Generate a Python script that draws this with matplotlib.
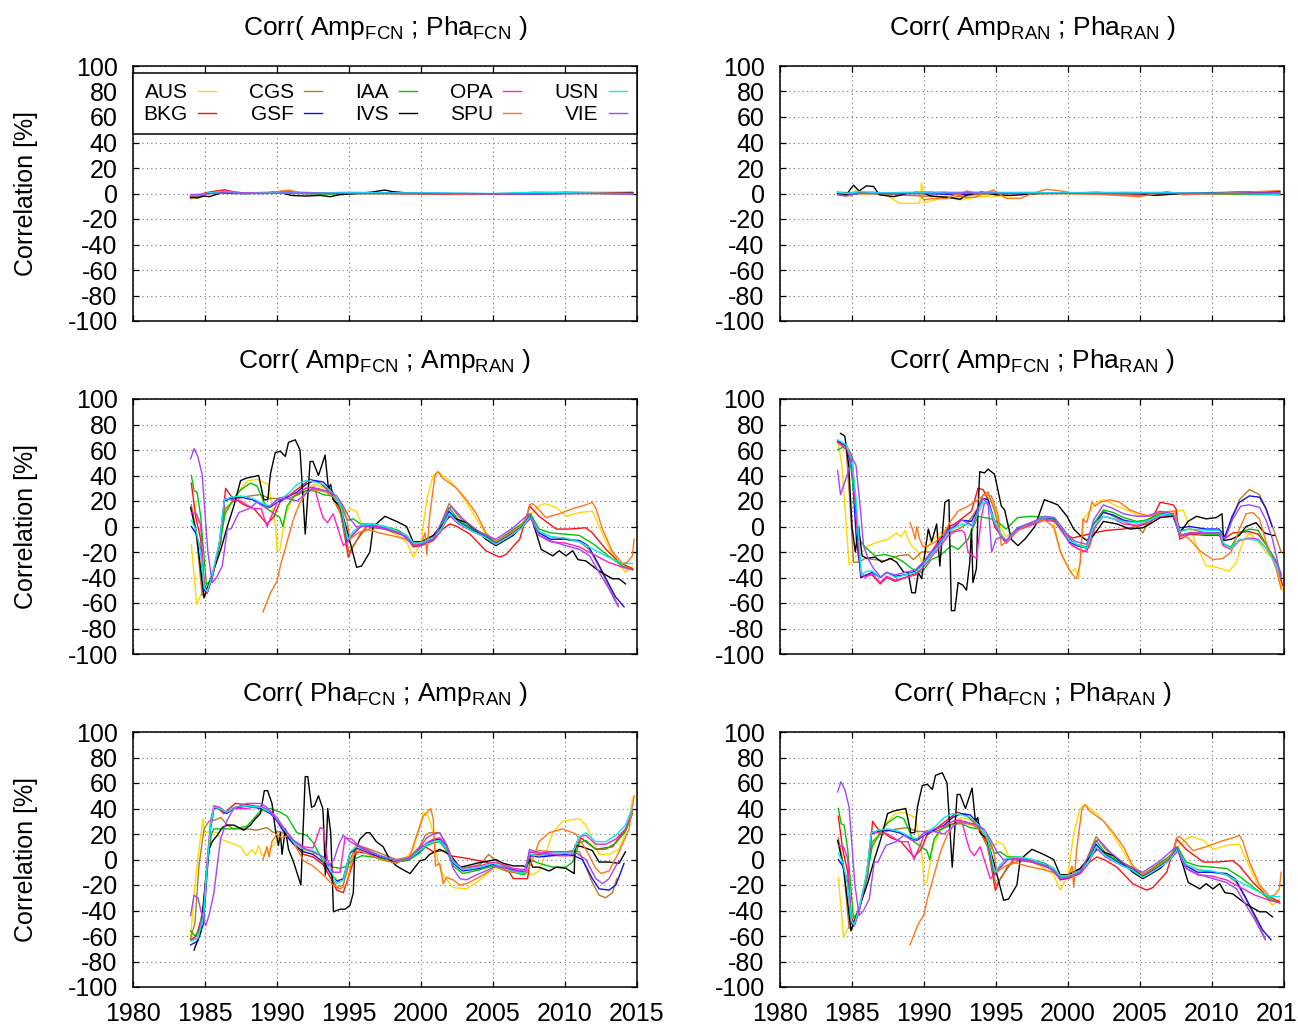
import matplotlib
matplotlib.use("Agg")
import matplotlib.pyplot as plt

plt.rcParams['font.family'] = ['Liberation Sans', 'DejaVu Sans']
plt.rcParams['mathtext.fontset'] = 'custom'
plt.rcParams['mathtext.rm'] = 'Liberation Sans'
plt.rcParams['mathtext.it'] = 'Liberation Sans'
plt.rcParams['axes.unicode_minus'] = False

stations = ['AUS', 'BKG', 'CGS', 'GSF', 'IAA', 'IVS', 'OPA', 'SPU', 'USN', 'VIE']
colors = ['#ffd800', '#ff1010', '#b57c22', '#1010f0', '#00c400',
          '#000000', '#ff20c8', '#ff7418', '#00f0f0', '#a444ff']
xticks = [1980, 1985, 1990, 1995, 2000, 2005, 2010, 2015]
yticks = [-100, -80, -60, -40, -20, 0, 20, 40, 60, 80, 100]

# ---- Corr( Amp_FCN ; Pha_FCN )  (year, correlation %)
af_AUS = [(1984.0, -4.5), (1984.5, -3), (1985.0, 0), (1985.6, 1.5), (1986.3, 3), (1986.9, 1.5), (1988.0, 0),
          (1989.5, 0.5), (1990.3, 1.5), (1990.8, 2.5), (1991.5, 1), (1993.0, 0), (1995.5, 0), (1997.5, 0.5),
          (1999.5, -0.5), (2002.0, -1), (2005.0, -0.5), (2008.0, 0.5), (2011.0, 0), (2014.7, -0.5)]
af_BKG = [(1984.0, -3.5), (1984.5, -2), (1985.0, 0.5), (1985.8, 2), (1986.4, 2.8), (1987.0, 1), (1988.5, 0),
          (1990.0, 1), (1990.7, 2), (1991.5, 0.5), (1993.0, 0), (1996.0, 0.5), (1999.0, 0), (2003.0, -0.5),
          (2007.0, 0), (2010.0, 1), (2014.7, 0.5)]
af_CGS = [(1984.0, -3), (1984.6, -2), (1985.2, 0), (1986.0, 1.5), (1987.0, 0.5), (1989.0, 0), (1990.5, 1.5),
          (1991.5, 0.5), (1994.0, 0), (1998.0, 0), (2002.0, -0.5), (2006.0, 0), (2010.0, 0.5), (2014.7, 0)]
af_GSF = [(1984.0, -2), (1984.6, -1.5), (1985.2, 0), (1986.0, 1), (1987.5, 0), (1990.0, 0.5), (1992.0, 0),
          (1995.0, 0), (1998.0, 0.5), (2001.0, 0), (2005.0, -0.5), (2009.0, 0), (2012.0, 0.5), (2014.7, -0.5)]
af_IAA = [(1984.0, -2.5), (1984.7, -1), (1985.5, 0.5), (1986.5, 1), (1988.0, 0), (1990.5, 0.5), (1993.0, -0.5),
          (1996.0, 0), (2000.0, 0), (2004.0, -0.5), (2008.0, 0), (2011.0, 0.5), (2014.7, 1)]
af_IVS = [(1984.0, -3), (1984.5, -3.5), (1984.9, -2), (1985.3, -2.5), (1985.7, -1), (1986.2, 0.5), (1987.0, 0),
          (1988.0, 0), (1989.0, 0.5), (1990.0, 1), (1990.5, 0), (1991.0, -1.5), (1992.0, -2), (1993.0, -1.5),
          (1993.7, -2.5), (1994.3, -1), (1995.5, 0), (1996.5, 1), (1997.5, 2.7), (1998.0, 1.5), (1999.0, 0.5),
          (2000.0, 0), (2005.0, -0.5), (2010.0, 0), (2014.7, 0.5)]
af_OPA = [(1984.0, -2), (1984.8, -1), (1985.5, 0.5), (1986.5, 2), (1987.5, 0.5), (1990.0, 1), (1992.0, 0),
          (1995.0, 0.5), (1999.0, 0), (2003.0, -0.5), (2008.0, 0), (2012.0, 0.5), (2014.7, 0)]
af_SPU = [(1989.0, 0), (1989.8, 1), (1990.3, 2), (1990.8, 2.5), (1991.5, 1), (1993.0, 0.5), (1996.0, 0),
          (1999.0, 0), (2003.0, -0.5), (2006.0, 0), (2008.0, 1), (2011.0, 0.5), (2014.7, 0)]
af_USN = [(1984.0, -1.5), (1984.6, -1), (1985.3, 0.5), (1986.2, 1.5), (1987.5, 0), (1990.0, 0.5), (1993.0, 0.5),
          (1995.0, 1), (1998.0, 0.5), (2001.0, 0.5), (2005.0, 0), (2008.0, 1), (2011.0, 0.5), (2014.7, -0.5)]
af_VIE = [(1984.0, -1), (1984.8, -0.5), (1985.5, 0), (1986.5, 0.5), (1989.0, 0), (1992.0, 0.5), (1995.0, 0),
          (1999.0, 0), (2003.0, 0), (2007.0, -0.5), (2011.0, 0), (2014.7, -0.5)]

# ---- Corr( Amp_RAN ; Pha_RAN )
rr_AUS = [(1984.0, -1), (1985.0, -2), (1985.3, 3), (1985.6, -1), (1986.5, 0), (1987.5, -2), (1988.3, -7.7),
          (1989.0, -7.7), (1989.7, -7.5), (1989.84, 8.5), (1990.0, -7), (1990.8, -5), (1991.5, -2), (1992.5, -5),
          (1993.5, -3), (1994.5, -2), (1995.5, -2), (1997.0, -1), (1999.0, 0), (2003.0, -1), (2006.0, 1),
          (2009.0, 0), (2012.0, -1), (2014.7, 0)]
rr_BKG = [(1984.0, 0), (1984.5, -1.5), (1985.2, 1), (1986.0, 0), (1987.5, 0), (1989.0, 0.5), (1990.5, 1),
          (1992.0, -1), (1993.0, 1.5), (1994.0, 0), (1996.0, 0.5), (1999.0, 0), (2002.0, 1), (2005.0, -1),
          (2008.0, 0), (2011.0, 0.5), (2014.7, 0)]
rr_CGS = [(1984.0, 1), (1984.5, -2), (1985.0, -1), (1985.5, 1), (1986.5, 0), (1988.0, -1), (1990.0, -2),
          (1992.0, -3), (1993.5, -1), (1995.0, 0), (1998.0, 0.5), (2002.0, 0), (2005.0, -1.5), (2008.0, 0),
          (2014.7, 0.5)]
rr_GSF = [(1984.0, 0), (1985.0, -0.5), (1986.0, 0.5), (1988.0, 0), (1990.0, 0), (1992.5, -1), (1994.0, 0.5),
          (1997.0, 0), (2001.0, 0.5), (2005.0, 0), (2009.0, 0.5), (2012.0, 1), (2014.7, 1.5)]
rr_IAA = [(1984.0, 1), (1985.0, 0.5), (1986.5, 1), (1988.0, 0), (1990.0, 1), (1992.0, 0), (1994.0, 1),
          (1997.0, 0.5), (2000.0, 0), (2004.0, 0.5), (2008.0, 0), (2012.0, -0.5), (2014.7, -1)]
rr_IVS = [(1984.0, 0), (1984.6, -1), (1985.1, 6.5), (1985.5, 2), (1986.0, 6), (1986.5, 5.5), (1986.9, -1),
          (1987.9, -2.5), (1988.8, 0), (1989.5, 1), (1990.0, 0), (1990.5, -2), (1991.6, -3), (1992.5, -4.5),
          (1993.0, -1), (1994.0, 1), (1995.0, -1), (1996.0, -1.5), (1998.0, 0), (2000.0, 0.5), (2005.0, 0),
          (2006.0, -1.5), (2008.0, 0), (2014.7, 1.5)]
rr_OPA = [(1984.0, 0.5), (1985.0, 0), (1986.5, 0.5), (1988.0, 0), (1990.0, 0.5), (1991.5, 1), (1992.5, -1),
          (1993.0, 2), (1993.5, 0), (1994.5, 1), (1996.0, 0), (1999.0, 0.5), (2003.0, 0), (2006.0, 0.5),
          (2010.0, 0), (2014.7, 0)]
rr_SPU = [(1989.03, 0), (1989.5, 1), (1990.0, -5), (1990.5, -4), (1991.0, -4), (1991.6, -4), (1992.3, 0),
          (1992.8, -3), (1993.5, -3), (1994.8, 2.7), (1995.7, -3.8), (1996.7, -3.8), (1997.5, 0), (1998.5, 3.3),
          (1999.5, 2), (2000.5, 0), (2002.0, -0.5), (2005.0, -2.5), (2006.85, 1.5), (2008.0, -1), (2010.0, 0),
          (2012.0, 1), (2014.7, 2.2)]
rr_USN = [(1984.0, 1), (1984.6, 0), (1985.5, 1.5), (1987.0, 0.5), (1989.0, 1), (1991.0, 1), (1993.0, 1),
          (1994.5, 0.5), (1997.0, 1), (2000.0, 0.5), (2004.0, 1), (2008.0, 0.5), (2012.0, 0), (2014.7, -0.5)]
rr_VIE = [(1984.0, -1), (1984.6, -2), (1985.3, 0), (1987.0, 0), (1990.0, 0), (1993.0, 0.5), (1996.0, 0),
          (2000.0, 0), (2005.0, 0), (2010.0, 0), (2014.7, 0.5)]

# ---- Corr( Amp_FCN ; Amp_RAN )  (the Pha_FCN ; Pha_RAN panel shows the same curves)
aa_AUS = [(1984.05, -14), (1984.42, -61), (1984.7, -54), (1985.1, -50), (1985.5, -38), (1986.0, -12), (1986.4, 12),
          (1987.0, 22), (1987.5, 30), (1988.0, 36), (1988.6, 37), (1989.4, 33), (1989.9, 0), (1990.0, -19),
          (1990.2, -18), (1990.6, 10), (1991.2, 24), (1992.0, 30), (1992.6, 33), (1993.2, 31), (1993.8, 26),
          (1994.4, 18), (1994.8, 10), (1995.1, 14), (1995.5, 12), (1995.9, 2), (1996.6, 1), (1997.5, -2),
          (1998.4, -7), (1999.0, -12), (1999.47, -24), (2000.0, -12), (2000.4, 21), (2000.85, 40), (2001.2, 43),
          (2001.5, 40), (2002.0, 36), (2002.47, 30), (2003.15, 19), (2003.85, 6), (2004.5, -6), (2005.2, -11),
          (2006.15, -7), (2007.07, 0), (2007.65, 10), (2008.2, 16), (2008.57, 18), (2009.4, 15), (2010.07, 8),
          (2011.0, 11), (2011.9, 12), (2012.37, 0), (2013.1, -18), (2013.8, -30), (2014.2, -36), (2014.68, -31)]
aa_BKG = [(1984.05, 34), (1984.35, 8), (1984.7, -10), (1984.95, -45), (1985.15, -50), (1985.5, -38), (1986.1, -12),
          (1986.43, 30), (1986.8, 24), (1987.7, 17), (1988.4, 14), (1989.3, 2), (1989.8, 8), (1990.2, 19),
          (1990.8, 24), (1991.5, 30), (1992.3, 37), (1992.9, 35), (1993.5, 29), (1994.4, 13), (1994.95, -24),
          (1995.3, -15), (1996.2, 0), (1997.2, -1), (1998.3, -5), (1999.0, -8), (1999.45, -16), (2000.0, -15),
          (2000.85, -11), (2001.5, -2), (2002.0, 2), (2002.5, 0), (2003.4, -6), (2004.5, -19), (2005.45, -24),
          (2005.9, -22), (2006.85, -10), (2007.55, 16), (2008.2, 8), (2009.4, -2), (2010.3, -2), (2011.45, -1),
          (2011.9, -5), (2012.85, -18), (2013.75, -28), (2014.68, -33)]
aa_CGS = [(1984.05, 17), (1984.35, -1), (1984.8, -54), (1985.15, -52), (1985.5, -40), (1986.0, -14), (1986.4, 14),
          (1987.0, 20), (1987.6, 23), (1988.15, 24), (1988.85, 25), (1989.5, 22), (1990.2, 22), (1990.8, 22),
          (1991.5, 25), (1992.2, 29), (1992.8, 30), (1993.3, 28), (1993.8, 24), (1994.4, 10), (1995.0, -20),
          (1995.4, -14), (1995.8, -5), (1996.6, -1), (1997.5, -2), (1998.4, -5), (1999.0, -8), (1999.5, -14),
          (2000.0, -13), (2000.8, -8), (2001.3, 0), (2001.95, 18), (2002.6, 8), (2003.6, -1), (2004.4, -6),
          (2005.2, -12), (2006.1, -5), (2007.0, 2), (2007.6, 10), (2008.2, -4), (2009.0, -8), (2010.0, -10),
          (2011.0, -12), (2011.7, -18), (2012.3, -30), (2013.0, -46), (2013.7, -62)]
aa_GSF = [(1984.05, 0), (1984.35, -5), (1984.7, -18), (1984.95, -50), (1985.15, -52), (1985.5, -40), (1986.0, -14),
          (1986.35, 20), (1986.8, 22), (1987.5, 23), (1988.3, 21), (1989.0, 17), (1989.5, 15), (1990.0, 19),
          (1990.7, 23), (1991.4, 27), (1992.0, 33), (1992.6, 36), (1993.2, 35), (1993.8, 28), (1994.4, 16),
          (1994.9, -12), (1995.3, -6), (1995.8, 0), (1996.6, 1), (1997.5, -1), (1998.4, -5), (1999.0, -8),
          (1999.5, -15), (2000.0, -14), (2000.8, -10), (2001.3, -4), (2001.95, 12), (2002.6, 4), (2003.6, -3),
          (2004.4, -7), (2005.2, -13), (2006.1, -7), (2007.0, 0), (2007.6, 9), (2008.2, -5), (2009.0, -10),
          (2010.0, -10), (2011.0, -11), (2011.6, -15), (2012.2, -27), (2012.9, -42), (2013.5, -55), (2014.1, -63)]
aa_IAA = [(1984.05, 40), (1984.25, 28), (1984.45, 27), (1984.7, 8), (1985.1, -46), (1985.5, -40), (1986.0, -15),
          (1986.4, 10), (1987.0, 22), (1987.5, 29), (1988.15, 34), (1988.6, 32), (1989.3, 14), (1989.8, 10),
          (1990.2, 7), (1990.4, 0), (1990.7, 16), (1991.2, 24), (1992.0, 28), (1992.6, 28), (1993.2, 25),
          (1993.8, 24), (1994.4, 18), (1994.9, 5), (1995.3, 6), (1995.8, 2), (1996.6, 2), (1997.5, 0),
          (1998.4, -3), (1999.0, -7), (1999.5, -14), (2000.0, -13), (2000.8, -9), (2001.3, -3), (2001.95, 15),
          (2002.6, 5), (2003.6, -2), (2004.4, -6), (2005.2, -12), (2006.1, -5), (2007.0, 2), (2007.6, 10),
          (2008.2, -2), (2009.0, -5), (2010.0, -6), (2011.0, -7), (2012.0, -14), (2013.0, -23), (2014.0, -31),
          (2014.7, -34)]
aa_IVS = [(1984.0, 15), (1984.4, -5), (1984.93, -56), (1985.4, -41), (1986.1, -18), (1986.55, 0), (1987.0, 16),
          (1987.47, 36), (1987.9, 38), (1988.73, 40), (1989.08, 21), (1989.36, 21), (1989.54, 41), (1989.88, 58),
          (1990.23, 59), (1990.58, 55), (1990.8, 66), (1991.27, 68), (1991.6, 60), (1991.96, -6), (1992.3, 51),
          (1992.5, 51), (1992.88, 40), (1993.34, 56), (1993.57, 30), (1993.73, 33), (1993.9, 21), (1994.38, 16),
          (1994.84, -2), (1995.07, -12), (1995.53, -32), (1995.87, -31), (1996.45, -20), (1996.68, 0),
          (1997.5, 8), (1998.3, 4), (1999.0, 0), (1999.45, -12), (2000.0, -12), (2000.85, -7), (2002.0, 8),
          (2003.15, 3), (2003.85, -3), (2004.5, -10), (2005.2, -15), (2006.4, -7), (2007.3, 3), (2007.65, 7),
          (2008.0, -5), (2008.35, -18), (2009.15, -23), (2009.6, -19), (2010.07, -23), (2010.53, -19),
          (2010.9, -26), (2011.45, -27), (2012.37, -35), (2013.3, -41), (2013.75, -41), (2014.2, -45)]
aa_OPA = [(1984.05, 11), (1984.4, 10), (1984.7, 1), (1984.95, -48), (1985.15, -52), (1985.5, -40), (1986.0, -13),
          (1986.35, 22), (1986.8, 21), (1987.5, 20), (1988.3, 14), (1988.9, 14), (1989.3, 0), (1989.8, 13),
          (1990.1, 22), (1990.7, 24), (1991.4, 26), (1992.0, 30), (1992.6, 31), (1993.0, 14), (1993.2, 7),
          (1993.5, 3), (1993.9, 10), (1994.6, -15), (1994.9, -12), (1995.3, -6), (1995.8, 0), (1996.6, 1),
          (1997.5, -1), (1998.4, -5), (1999.0, -8), (1999.5, -15), (2000.0, -14), (2000.8, -10), (2001.3, -5),
          (2001.95, 9), (2002.6, 2), (2003.6, -4), (2004.4, -8), (2005.2, -14), (2006.1, -8), (2007.0, -1),
          (2007.6, 7), (2008.2, -7), (2009.0, -12), (2010.0, -13), (2011.0, -16), (2012.0, -22), (2013.0, -28),
          (2014.0, -32), (2014.7, -34)]
aa_SPU = [(1989.03, -67), (1989.54, -52), (1990.0, -43), (1990.23, -31), (1990.7, -12), (1991.15, 6), (1991.6, 19),
          (1992.07, 27), (1992.5, 29), (1993.45, 27), (1994.15, 21), (1994.84, 6), (1995.07, -10), (1995.5, -6),
          (1996.2, -2), (1997.1, -5), (1998.3, -8), (1999.0, -10), (1999.47, -15), (2000.05, -12), (2000.28, -5),
          (2000.4, -22), (2000.6, 8), (2000.97, 40), (2001.2, 43), (2001.5, 38), (2002.0, 34), (2002.47, 30),
          (2003.15, 21), (2003.85, 10), (2004.5, -5), (2005.2, -12), (2006.1, -6), (2006.9, 0), (2007.3, 6),
          (2007.53, 17), (2007.76, 18), (2008.2, 13), (2008.67, 7), (2009.6, 10), (2010.53, 14), (2011.45, 17),
          (2011.9, 19), (2012.15, 14), (2012.6, -2), (2013.3, -20), (2014.0, -29), (2014.33, -28),
          (2014.68, -23), (2014.8, -10)]
aa_USN = [(1984.05, 5), (1984.35, -2), (1984.7, -20), (1984.95, -48), (1985.15, -51), (1985.5, -38), (1986.0, -12),
          (1986.35, 21), (1986.8, 23), (1987.5, 24), (1988.3, 22), (1989.0, 18), (1989.5, 16), (1990.0, 20),
          (1990.7, 25), (1991.4, 33), (1992.0, 36), (1992.6, 35), (1993.2, 33), (1993.8, 27), (1994.4, 17),
          (1994.9, -10), (1995.3, -4), (1995.8, 1), (1996.6, 2), (1997.5, 0), (1998.4, -4), (1999.0, -7),
          (1999.5, -13), (2000.0, -13), (2000.8, -9), (2001.3, -4), (2001.95, 10), (2002.6, 3), (2003.6, -4),
          (2004.4, -8), (2005.2, -14), (2006.1, -8), (2007.0, -1), (2007.6, 8), (2008.2, -4), (2009.0, -8),
          (2010.0, -9), (2011.0, -12), (2012.0, -18), (2013.0, -24), (2014.0, -29), (2014.7, -29)]
aa_VIE = [(1984.0, 53), (1984.24, 61), (1984.5, 55), (1984.8, 41), (1985.2, -20), (1985.5, -44), (1985.8, -40),
          (1986.2, -31), (1986.55, -2), (1986.8, -2), (1987.35, 11), (1988.05, 14), (1988.6, 19), (1989.3, 14),
          (1990.0, 21), (1990.7, 22), (1991.4, 20), (1992.0, 26), (1992.5, 30), (1993.45, 28), (1994.15, 24),
          (1994.6, 16), (1995.07, 6), (1995.5, 0), (1996.6, 0), (1997.5, -2), (1998.55, -5), (1999.47, -15),
          (2000.0, -14), (2000.85, -10), (2001.77, 11), (2002.1, 16), (2002.9, 6), (2004.1, -5), (2005.2, -10),
          (2006.4, -1), (2007.3, 8), (2007.5, 10), (2008.2, -7), (2009.15, -12), (2010.07, -15), (2011.0, -18),
          (2011.7, -23), (2012.37, -36), (2013.06, -49), (2013.7, -63)]

# ---- Corr( Amp_FCN ; Pha_RAN )
ap_AUS = [(1984.0, 68), (1984.3, 48), (1984.8, -30), (1985.2, -24), (1985.7, -20), (1986.15, -15), (1986.84, -12),
          (1987.5, -10), (1988.1, -5), (1988.4, -8), (1988.7, -3), (1988.9, -10), (1989.15, -15), (1989.6, -20),
          (1989.84, -28), (1990.3, -15), (1990.8, -8), (1991.5, -2), (1992.2, 0), (1992.8, 2), (1993.4, 8),
          (1994.0, 20), (1994.5, 23), (1994.9, 15), (1995.3, 0), (1995.7, -8), (1996.5, -2), (1997.44, 3),
          (1998.36, 6), (1999.0, 4), (1999.47, -20), (2000.16, -36), (2000.5, -33), (2000.74, -40), (2001.08, 6),
          (2001.5, 12), (2002.0, 19), (2002.46, 21), (2003.4, 16), (2004.3, 12), (2005.0, 8), (2006.0, 9),
          (2007.0, 11), (2008.0, 13), (2008.45, 0), (2008.92, -15), (2009.6, -31), (2010.3, -32), (2011.2, -35),
          (2011.7, -28), (2012.14, -12), (2012.6, -5), (2013.2, -12), (2013.75, -20), (2014.45, -28),
          (2014.9, -50)]
ap_BKG = [(1984.0, 66), (1984.6, 64), (1985.0, 55), (1985.3, 10), (1985.6, -40), (1986.0, -38), (1986.4, -38),
          (1986.96, -45), (1987.4, -40), (1988.0, -43), (1988.7, -40), (1989.4, -37), (1989.95, -28),
          (1990.5, -20), (1991.1, -10), (1991.7, 0), (1992.14, 2), (1992.6, 6), (1993.3, 12), (1993.75, 30),
          (1994.1, 29), (1994.45, 21), (1994.9, 0), (1995.37, -8), (1995.7, -13), (1996.5, -3), (1997.44, 2),
          (1998.36, 6), (1999.05, 5), (1999.75, -5), (2000.3, -9), (2001.08, -7), (2001.77, -5), (2002.7, -3),
          (2003.85, -2), (2004.77, 0), (2005.7, 3), (2006.4, 19), (2007.3, 17), (2007.5, 14), (2007.76, -10),
          (2008.45, -6), (2009.6, -7), (2010.5, -7), (2010.8, -10), (2011.45, -5), (2012.6, -4), (2013.2, -6),
          (2013.75, -14), (2014.45, -28), (2014.9, -46)]
ap_CGS = [(1984.0, 66), (1984.6, 60), (1984.85, 20), (1985.1, -28), (1985.5, -28), (1985.9, -25), (1986.6, -26),
          (1987.3, -27), (1988.2, -23), (1988.9, -22), (1989.26, -26), (1989.84, -20), (1990.5, -20),
          (1991.1, -14), (1991.7, -5), (1992.4, -2), (1993.0, 2), (1993.7, 14), (1994.1, 25), (1994.45, 27),
          (1994.9, 12), (1995.37, -8), (1995.7, -12), (1996.5, -2), (1997.44, 2), (1998.36, 6), (1999.05, 5),
          (1999.75, -7), (2000.3, -15), (2001.08, -20), (2001.5, -16), (2001.9, 0), (2002.46, 12), (2003.15, 8),
          (2003.85, 4), (2004.77, 0), (2005.2, -5), (2005.5, 2), (2006.15, 7), (2007.3, 9), (2007.76, -3),
          (2008.45, -2), (2009.6, -5), (2010.5, -5), (2010.8, -10), (2011.2, 0), (2011.9, 21), (2012.6, 29),
          (2013.3, 25), (2013.75, 14), (2014.2, 0), (2014.8, -20)]
ap_GSF = [(1984.0, 67), (1984.6, 63), (1985.0, 45), (1985.3, -10), (1985.65, -40), (1986.0, -38), (1986.4, -36),
          (1986.96, -40), (1987.4, -36), (1988.0, -39), (1988.7, -38), (1989.4, -35), (1989.95, -29),
          (1990.5, -22), (1991.1, -13), (1991.7, -2), (1992.14, 0), (1992.6, 5), (1993.3, 4), (1993.75, 14),
          (1994.1, 22), (1994.45, 21), (1994.9, 4), (1995.37, -8), (1995.7, -12), (1996.5, -2), (1997.44, 3),
          (1998.36, 7), (1999.05, 6), (1999.75, -5), (2000.1, -12), (2000.6, -15), (2001.3, -17), (2001.77, 2),
          (2002.46, 11), (2003.15, 9), (2003.85, 5), (2004.77, 3), (2005.46, 5), (2006.4, 10), (2007.3, 9),
          (2007.76, -1), (2008.45, 0), (2009.6, -2), (2010.5, -2), (2010.9, -8), (2011.4, 8), (2011.9, 19),
          (2012.6, 24), (2013.3, 23), (2013.75, 14), (2014.17, 0)]
ap_IAA = [(1984.0, 60), (1984.5, 63), (1984.8, 58), (1985.2, 20), (1985.5, -10), (1985.9, -16), (1986.6, -23),
          (1987.3, -22), (1988.0, -24), (1988.6, -28), (1989.15, -33), (1989.84, -36), (1990.5, -26),
          (1991.1, -23), (1991.9, -15), (1992.37, -18), (1993.06, -10), (1993.75, 8), (1994.2, 7), (1994.67, 6),
          (1995.3, 2), (1995.7, -2), (1996.5, 7), (1997.44, 8), (1998.8, 7), (1999.5, 0), (2000.1, -10),
          (2000.6, -14), (2001.3, -16), (2001.77, 2), (2002.46, 13), (2003.15, 11), (2003.85, 7), (2004.77, 4),
          (2005.46, 5), (2006.4, 10), (2007.3, 8), (2007.76, -7), (2008.45, -5), (2009.6, -6), (2010.5, -6),
          (2010.8, -14), (2011.33, -16), (2011.9, -5), (2012.6, -2), (2013.2, -3), (2013.75, -14),
          (2014.45, -27), (2014.8, -37)]
ap_IVS = [(1984.2, 73), (1984.5, 71), (1984.77, 48), (1985.0, 0), (1985.23, -20), (1985.46, 0), (1985.7, -23),
          (1986.04, -25), (1986.6, -24), (1987.07, -28), (1987.65, -25), (1988.1, -28), (1988.6, -36),
          (1988.9, -36), (1989.15, -52), (1989.4, -52), (1989.6, -36), (1989.84, -41), (1990.07, -20),
          (1990.3, -2), (1990.53, -12), (1990.88, 2), (1991.1, -31), (1991.45, 19), (1991.73, 21), (1991.9, -66),
          (1992.14, -66), (1992.37, -44), (1992.7, -46), (1992.95, -50), (1993.18, -28), (1993.3, -2),
          (1993.4, -44), (1993.64, -33), (1993.75, 13), (1993.87, 43), (1994.2, 42), (1994.45, 45), (1994.9, 41),
          (1995.37, 16), (1995.6, 13), (1996.06, -10), (1996.52, -15), (1997.0, -10), (1997.7, 0), (1998.36, 21),
          (1998.82, 19), (1999.29, 17), (1999.93, 8), (2000.4, -2), (2000.85, -7), (2001.3, -11), (2001.77, -7),
          (2002.46, 4), (2003.4, 2), (2004.3, -2), (2005.2, -1), (2005.7, 2), (2006.4, 7), (2007.3, 8),
          (2007.76, -5), (2008.34, 4), (2008.92, 8), (2009.6, 6), (2010.3, 7), (2010.7, 10), (2010.8, -11),
          (2011.33, -10), (2011.9, -7), (2012.37, 0), (2013.06, 3), (2013.64, -5), (2014.2, -7), (2014.33, -7)]
ap_OPA = [(1984.0, 66), (1984.6, 62), (1985.0, 50), (1985.3, 10), (1985.6, -35), (1985.9, -40), (1986.4, -37),
          (1986.96, -44), (1987.4, -39), (1988.0, -42), (1988.7, -40), (1989.4, -38), (1989.95, -32),
          (1990.5, -24), (1991.1, -16), (1991.7, -7), (1992.14, -4), (1992.6, -3), (1992.83, -5), (1993.06, -20),
          (1993.64, -25), (1994.0, 8), (1994.2, 19), (1994.5, 17), (1994.9, 2), (1995.37, -8), (1995.7, -13),
          (1996.5, -3), (1997.44, 1), (1998.36, 5), (1999.05, 4), (1999.75, -6), (2000.1, -13), (2000.6, -17),
          (2001.3, -20), (2001.77, -2), (2002.46, 8), (2003.15, 6), (2003.85, 2), (2004.77, 1), (2005.46, 3),
          (2006.4, 8), (2007.3, 9), (2007.76, -7), (2008.45, -5), (2009.6, -5), (2010.5, -5), (2010.76, -15),
          (2011.33, -18), (2011.9, -11), (2012.6, -9), (2013.2, -10), (2013.75, -17), (2014.45, -28),
          (2014.8, -38)]
ap_SPU = [(1989.03, 3), (1989.2, -2), (1989.38, -10), (1989.5, 0), (1989.7, -10), (1989.95, -16), (1990.3, -15),
          (1990.8, -12), (1991.4, -5), (1991.9, 5), (1992.37, 12), (1993.06, 16), (1993.75, 21), (1994.2, 25),
          (1994.67, 24), (1995.13, 10), (1995.37, -15), (1995.7, -12), (1996.5, -3), (1997.44, 3), (1998.36, 5),
          (1999.0, 0), (1999.47, -20), (2000.05, -33), (2000.27, -37), (2000.6, -41), (2000.85, -28),
          (2001.04, 6), (2001.3, 3), (2001.66, 19), (2001.9, 16), (2002.23, 19), (2002.93, 21), (2003.6, 19),
          (2004.3, 13), (2005.0, 10), (2005.7, 8), (2006.4, 11), (2007.07, 12), (2007.4, 12), (2007.76, -5),
          (2008.45, -10), (2009.15, -19), (2010.07, -26), (2010.76, -25), (2011.33, -20), (2011.9, -2),
          (2012.37, 10), (2012.83, 11), (2013.3, 6), (2013.75, -12), (2014.45, -33), (2014.8, -49)]
ap_USN = [(1984.0, 68), (1984.6, 64), (1985.0, 52), (1985.3, 20), (1985.65, -38), (1986.0, -35), (1986.4, -35),
          (1986.96, -40), (1987.4, -36), (1988.0, -40), (1988.7, -38), (1989.4, -36), (1989.95, -30),
          (1990.5, -22), (1991.1, -14), (1991.7, -4), (1992.14, -1), (1992.6, 2), (1993.3, 1), (1993.75, 10),
          (1994.1, 19), (1994.45, 18), (1994.9, 4), (1995.37, -6), (1995.7, -11), (1996.5, -1), (1997.44, 3),
          (1998.36, 7), (1999.05, 7), (1999.75, -4), (2000.1, -11), (2000.6, -14), (2001.3, -17), (2001.77, 0),
          (2002.46, 8), (2003.15, 6), (2003.85, 4), (2004.77, 3), (2005.46, 4), (2006.4, 9), (2007.3, 10),
          (2007.76, -4), (2008.45, -2), (2009.6, -3), (2010.5, -3), (2010.8, -13), (2011.33, -17), (2011.9, -10),
          (2012.6, -10), (2013.2, -11), (2013.75, -17), (2014.45, -30), (2014.8, -40)]
ap_VIE = [(1984.0, 44), (1984.2, 25), (1984.65, 40), (1985.0, 54), (1985.28, 48), (1985.58, 14), (1985.8, -15),
          (1986.15, -26), (1986.5, -33), (1987.0, -40), (1987.4, -36), (1988.0, -38), (1988.7, -36),
          (1989.4, -34), (1989.95, -28), (1990.5, -20), (1991.1, -12), (1991.7, -3), (1992.14, 1), (1992.6, 5),
          (1993.06, 3), (1993.4, 0), (1993.75, 14), (1994.1, 22), (1994.45, 18), (1994.7, -20), (1995.0, -10),
          (1995.37, -8), (1995.7, -11), (1996.5, -1), (1997.44, 3), (1998.36, 8), (1999.05, 7), (1999.75, -3),
          (2000.1, -9), (2000.6, -12), (2001.3, -14), (2001.77, 5), (2002.46, 17), (2003.15, 14), (2003.85, 10),
          (2004.77, 8), (2005.46, 8), (2006.4, 12), (2007.3, 10), (2007.76, -8), (2008.45, -5), (2009.6, -5),
          (2010.5, -5), (2010.9, -10), (2011.4, 5), (2012.0, 16), (2012.6, 17), (2013.3, 15), (2013.75, 5),
          (2014.2, -10), (2014.8, -40)]

# ---- Corr( Pha_FCN ; Amp_RAN )
pa_AUS = [(1984.0, -62), (1984.24, -26), (1984.58, 8), (1984.86, 32), (1984.97, 21), (1985.4, 22), (1985.85, 21),
          (1986.08, 16), (1986.8, 13), (1987.47, 10), (1987.9, 3), (1988.27, 8), (1988.5, 4), (1988.73, 11),
          (1988.96, 3), (1989.3, 6), (1989.8, 12), (1990.3, 20), (1990.8, 16), (1991.4, 10), (1992.0, 6),
          (1992.6, 4), (1993.2, -4), (1993.8, -12), (1994.4, -18), (1994.84, -12), (1995.07, 5), (1995.53, 12),
          (1996.2, 8), (1997.14, 2), (1998.3, -2), (1999.0, 2), (1999.47, 8), (2000.16, 37), (2000.5, 34),
          (2000.85, 21), (2001.2, -3), (2001.54, -12), (2002.23, -22), (2003.15, -23), (2004.1, -16),
          (2005.0, -7), (2005.9, -5), (2006.85, -9), (2007.3, -10), (2007.76, -12), (2008.2, -9), (2008.7, 6),
          (2009.15, 21), (2009.84, 30), (2011.0, 32), (2011.45, 27), (2011.9, 16), (2012.37, 4), (2013.06, 4),
          (2013.75, 8), (2014.45, 29), (2014.68, 48)]
pa_BKG = [(1984.0, -63), (1984.4, -60), (1984.9, -40), (1985.15, -5), (1985.4, 30), (1985.62, 42), (1985.85, 41),
          (1986.3, 36), (1987.1, 44), (1987.9, 43), (1988.96, 41), (1989.54, 37), (1990.0, 30), (1990.46, 22),
          (1991.15, 12), (1991.84, 4), (1992.5, 2), (1993.2, -4), (1993.8, -16), (1994.15, -24), (1994.6, -26),
          (1995.07, -10), (1995.53, 6), (1996.2, 5), (1997.14, 2), (1998.3, -2), (1999.2, 0), (1999.7, 6),
          (2000.16, 11), (2000.85, 6), (2001.54, 7), (2002.0, 3), (2003.15, 1), (2004.5, -2), (2005.2, -5),
          (2006.15, -10), (2006.4, -15), (2007.4, -15), (2007.65, 4), (2008.2, 4), (2009.6, 3), (2010.53, 3),
          (2011.1, 17), (2012.14, 8), (2013.3, 10), (2014.2, 24), (2014.68, 36)]
pa_CGS = [(1984.0, -62), (1984.3, -50), (1984.58, -5), (1984.93, 24), (1985.28, 30), (1985.7, 31), (1986.1, 33),
          (1986.55, 27), (1987.0, 24), (1987.9, 24), (1988.6, 23), (1989.3, 25), (1989.77, 21), (1990.2, 22),
          (1990.8, 18), (1991.4, 12), (1991.9, 8), (1992.5, 6), (1993.2, 2), (1993.8, -14), (1994.15, -22),
          (1994.6, -20), (1995.07, 0), (1995.53, 11), (1996.2, 9), (1997.14, 5), (1998.3, 0), (1999.2, 2),
          (1999.9, 10), (2000.3, 19), (2000.6, 21), (2001.3, 21), (2001.77, 12), (2002.23, -1), (2002.9, -7),
          (2004.1, -4), (2004.7, 4), (2005.3, -2), (2005.7, -5), (2006.4, -9), (2007.2, -11), (2007.53, 5),
          (2008.2, 7), (2009.15, 6), (2010.07, 6), (2010.53, 7), (2011.0, 6), (2011.9, -18), (2012.37, -28),
          (2012.83, -30), (2013.3, -26), (2013.6, -15)]
pa_GSF = [(1984.0, -67), (1984.5, -64), (1984.9, -50), (1985.15, -10), (1985.4, 25), (1985.62, 40), (1986.0, 40),
          (1986.5, 36), (1987.0, 40), (1987.9, 42), (1988.85, 40), (1989.54, 36), (1990.0, 31), (1990.46, 22),
          (1991.15, 12), (1991.84, 6), (1992.5, 4), (1993.2, -2), (1993.8, -12), (1994.15, -17), (1994.6, -15),
          (1995.07, 5), (1995.53, 9), (1996.2, 6), (1997.14, 2), (1998.3, -2), (1999.2, 0), (1999.9, 6),
          (2000.4, 13), (2000.85, 15), (2001.3, 16), (2001.77, 10), (2002.23, -3), (2002.9, -9), (2004.1, -7),
          (2005.0, -4), (2005.7, -6), (2006.4, -8), (2007.2, -10), (2007.53, 3), (2008.2, 2), (2009.15, 3),
          (2010.07, 4), (2010.6, 3), (2011.2, 0), (2011.9, -15), (2012.37, -23), (2013.06, -24), (2013.53, -20),
          (2013.87, -10), (2014.1, -3)]
pa_IAA = [(1984.0, -56), (1984.3, -60), (1984.6, -55), (1984.9, -35), (1985.2, 0), (1985.45, 20), (1985.62, 24),
          (1986.08, 24), (1987.0, 24), (1987.9, 26), (1988.85, 38), (1989.54, 40), (1990.23, 37), (1990.7, 34),
          (1991.38, 21), (1992.07, 19), (1992.53, 13), (1993.22, -2), (1993.92, -6), (1994.38, -7), (1994.84, -5),
          (1995.3, 0), (1995.9, 3), (1996.6, 2), (1997.14, 1), (1998.3, -2), (1999.2, 0), (1999.9, 5),
          (2000.4, 11), (2000.85, 13), (2001.3, 14), (2001.77, 7), (2002.23, -5), (2002.9, -11), (2004.1, -8),
          (2005.0, -5), (2005.7, -8), (2006.4, -10), (2007.2, -12), (2007.53, 0), (2008.2, -3), (2009.15, -6),
          (2010.07, -6), (2010.53, -2), (2011.0, 13), (2011.45, 15), (2012.14, 8), (2012.83, 8), (2013.53, 13),
          (2014.2, 22), (2014.68, 36)]
pa_IVS = [(1984.24, -71), (1984.7, -57), (1985.05, -15), (1985.28, 8), (1985.5, 14), (1985.85, 19), (1986.2, 25),
          (1986.55, 27), (1987.0, 27), (1987.7, 23), (1988.15, 27), (1988.5, 32), (1988.85, 36), (1989.12, 54),
          (1989.35, 54), (1989.65, 44), (1989.88, 24), (1990.1, 11), (1990.23, 21), (1990.35, 4), (1990.58, 24),
          (1990.8, 8), (1991.15, -2), (1991.66, -20), (1991.96, 65), (1992.14, 65), (1992.4, 41), (1992.6, 42),
          (1992.88, 50), (1993.18, 40), (1993.22, 32), (1993.36, -12), (1993.52, 40), (1993.73, 21),
          (1993.92, -41), (1994.38, -39), (1994.72, -39), (1995.07, -36), (1995.3, -26), (1995.4, 6),
          (1995.76, 16), (1996.2, 21), (1996.45, 21), (1996.9, 14), (1997.37, 10), (1997.83, 0), (1998.3, -5),
          (1998.75, -8), (1999.24, -11), (1999.93, -1), (2000.27, 0), (2000.6, 4), (2001.3, 8), (2002.0, 4),
          (2002.7, -6), (2003.15, -5), (2003.85, -3), (2004.77, -1), (2005.2, 0), (2005.7, -3), (2006.4, -5),
          (2007.07, -5), (2007.3, -6), (2007.53, 0), (2007.76, -6), (2008.2, -6), (2008.9, -9), (2009.4, -6),
          (2010.07, -7), (2010.64, -11), (2010.7, 11), (2011.2, 10), (2011.9, 7), (2012.37, -2), (2013.06, -2),
          (2013.75, -3), (2014.2, 6)]
pa_OPA = [(1984.0, -63), (1984.5, -62), (1984.9, -40), (1985.15, 0), (1985.4, 30), (1985.62, 42), (1986.0, 41),
          (1986.5, 37), (1987.0, 40), (1987.9, 40), (1988.85, 42), (1989.54, 38), (1990.0, 33), (1990.46, 25),
          (1991.15, 15), (1991.84, 10), (1992.5, 9), (1993.0, 25), (1993.22, 24), (1993.5, 0), (1993.92, -10),
          (1994.38, -10), (1994.72, 17), (1995.2, 16), (1995.53, 12), (1996.2, 8), (1997.14, 3), (1998.3, -1),
          (1999.2, 1), (1999.9, 7), (2000.4, 13), (2000.85, 16), (2001.3, 17), (2001.77, 11), (2002.23, -1),
          (2002.9, -7), (2004.1, -5), (2005.0, -2), (2005.7, -4), (2006.4, -7), (2007.2, -8), (2007.53, 6),
          (2008.2, 5), (2009.15, 6), (2010.07, 6), (2010.53, 6), (2011.0, 18), (2011.45, 19), (2012.14, 12),
          (2012.83, 12), (2013.53, 16), (2014.2, 24), (2014.68, 38)]
pa_SPU = [(1989.03, 0), (1989.3, 10), (1989.45, 2), (1989.65, 14), (1990.0, 20), (1990.3, 17), (1990.9, 19),
          (1991.4, 8), (1991.84, -1), (1992.5, -5), (1993.2, -12), (1993.9, -20), (1994.38, -23), (1994.84, -20),
          (1995.2, 0), (1995.53, 8), (1996.2, 5), (1997.14, 0), (1998.3, -3), (1999.24, 3), (1999.7, 19),
          (2000.16, 34), (2000.5, 38), (2000.67, 40), (2000.85, 32), (2001.0, -5), (2001.3, -3), (2001.54, -19),
          (2001.77, -14), (2002.23, -16), (2002.7, -20), (2003.15, -19), (2003.85, -15), (2004.77, -9),
          (2005.2, -5), (2005.9, -9), (2006.6, -10), (2007.3, -11), (2007.76, 0), (2008.2, 14), (2008.9, 21),
          (2009.84, 24), (2010.76, 20), (2011.45, 8), (2012.14, -7), (2012.5, -11), (2013.06, -9), (2013.75, 6),
          (2014.45, 24), (2014.8, 50)]
pa_USN = [(1984.0, -64), (1984.5, -62), (1984.9, -45), (1985.15, -5), (1985.4, 27), (1985.62, 41), (1986.0, 40),
          (1986.5, 37), (1987.0, 41), (1987.9, 42), (1988.85, 41), (1989.54, 37), (1990.0, 32), (1990.46, 24),
          (1991.15, 14), (1991.84, 8), (1992.5, 7), (1993.2, 2), (1993.8, -10), (1994.15, -19), (1994.6, -16),
          (1995.07, 6), (1995.53, 10), (1996.2, 7), (1997.14, 3), (1998.3, -1), (1999.2, 1), (1999.9, 7),
          (2000.4, 12), (2000.85, 14), (2001.3, 15), (2001.77, 9), (2002.23, -2), (2002.9, -8), (2004.1, -6),
          (2005.0, -3), (2005.7, -6), (2006.4, -9), (2007.2, -11), (2007.53, 4), (2008.2, 3), (2009.15, 5),
          (2010.07, 5), (2010.53, 5), (2011.0, 18), (2011.45, 21), (2012.14, 14), (2012.83, 14), (2013.53, 19),
          (2014.2, 27), (2014.68, 41)]
pa_VIE = [(1984.0, -44), (1984.24, -28), (1984.5, -30), (1984.8, -44), (1985.05, -52), (1985.28, -44),
          (1985.62, -26), (1985.9, 0), (1986.08, 16), (1986.5, 30), (1987.0, 40), (1987.9, 44), (1988.85, 44),
          (1989.3, 41), (1990.0, 31), (1990.5, 24), (1991.15, 15), (1991.84, 9), (1992.5, 6), (1993.2, 2),
          (1993.6, -5), (1993.95, 0), (1994.3, 12), (1994.6, 19), (1995.07, 14), (1995.53, 11), (1996.2, 7),
          (1997.14, 3), (1998.3, -1), (1999.2, 1), (1999.9, 9), (2000.4, 17), (2000.85, 20), (2001.3, 21),
          (2001.77, 11), (2002.23, -7), (2002.7, -15), (2003.15, -16), (2003.85, -12), (2004.5, -9), (2005.2, -5),
          (2005.9, -7), (2006.6, -9), (2007.3, -9), (2007.53, 8), (2008.2, 5), (2009.15, 4), (2010.07, 3),
          (2010.8, 5), (2011.45, 0), (2012.14, -15), (2012.6, -19), (2013.06, -15), (2013.53, -5), (2013.75, -1)]

af = [af_AUS, af_BKG, af_CGS, af_GSF, af_IAA, af_IVS, af_OPA, af_SPU, af_USN, af_VIE]
rr = [rr_AUS, rr_BKG, rr_CGS, rr_GSF, rr_IAA, rr_IVS, rr_OPA, rr_SPU, rr_USN, rr_VIE]
aa = [aa_AUS, aa_BKG, aa_CGS, aa_GSF, aa_IAA, aa_IVS, aa_OPA, aa_SPU, aa_USN, aa_VIE]
ap = [ap_AUS, ap_BKG, ap_CGS, ap_GSF, ap_IAA, ap_IVS, ap_OPA, ap_SPU, ap_USN, ap_VIE]
pa = [pa_AUS, pa_BKG, pa_CGS, pa_GSF, pa_IAA, pa_IVS, pa_OPA, pa_SPU, pa_USN, pa_VIE]

panels = [
    (r'Corr( Amp$_{\mathrm{FCN}}$ ; Pha$_{\mathrm{FCN}}$ )', af),
    (r'Corr( Amp$_{\mathrm{RAN}}$ ; Pha$_{\mathrm{RAN}}$ )', rr),
    (r'Corr( Amp$_{\mathrm{FCN}}$ ; Amp$_{\mathrm{RAN}}$ )', aa),
    (r'Corr( Amp$_{\mathrm{FCN}}$ ; Pha$_{\mathrm{RAN}}$ )', ap),
    (r'Corr( Pha$_{\mathrm{FCN}}$ ; Amp$_{\mathrm{RAN}}$ )', pa),
    (r'Corr( Pha$_{\mathrm{FCN}}$ ; Pha$_{\mathrm{RAN}}$ )', aa),
]

W, H = 1298, 1027
fig = plt.figure(figsize=(W / 100, H / 100), dpi=100)
lefts = [133, 780]
tops = [66, 399, 732]
pw, ph = 504, 255

for i, (title, series) in enumerate(panels):
    row, col = divmod(i, 2)
    ax = fig.add_axes([lefts[col] / W, 1 - (tops[row] + ph) / H, pw / W, ph / H])
    for name, c, pts in zip(stations, colors, series):
        t = [p[0] for p in pts]
        v = [p[1] for p in pts]
        ax.plot(t, v, color=c, lw=1.0, label=name)
    ax.set_xlim(1980, 2015)
    ax.set_ylim(-100, 100)
    ax.set_xticks(xticks)
    ax.set_yticks(yticks)
    ax.grid(True, linestyle=(0, (1, 3)), color='#707070', lw=0.8)
    ax.set_axisbelow(True)
    ax.tick_params(direction='in', top=True, right=True, length=4.5, width=0.9,
                   labelsize=18, colors='black')
    ax.tick_params(axis='y', pad=11)
    ax.tick_params(axis='x', pad=11)
    for s in ax.spines.values():
        s.set_linewidth(1.1)
    if row < 2:
        ax.tick_params(labelbottom=False)
    if col == 0:
        ax.text(-0.212, 0.5, 'Correlation [%]', transform=ax.transAxes, rotation=90,
                ha='center', va='center', fontsize=18)
    ax.text(0.5, 1.12, title, transform=ax.transAxes, ha='center', va='baseline', fontsize=19)
    if i == 0:
        leg = ax.legend(ncol=5, loc='upper left', bbox_to_anchor=(0, 0, 1, 0.9725), mode='expand',
                        borderaxespad=0, markerfirst=False, fontsize=15, fancybox=False,
                        edgecolor='black', framealpha=1, handlelength=0.85, handletextpad=0.5,
                        labelspacing=0.12, borderpad=0.5)
        leg.get_frame().set_linewidth(1.1)
        leg.set_zorder(5)

fig.savefig('out.png', dpi=100)
